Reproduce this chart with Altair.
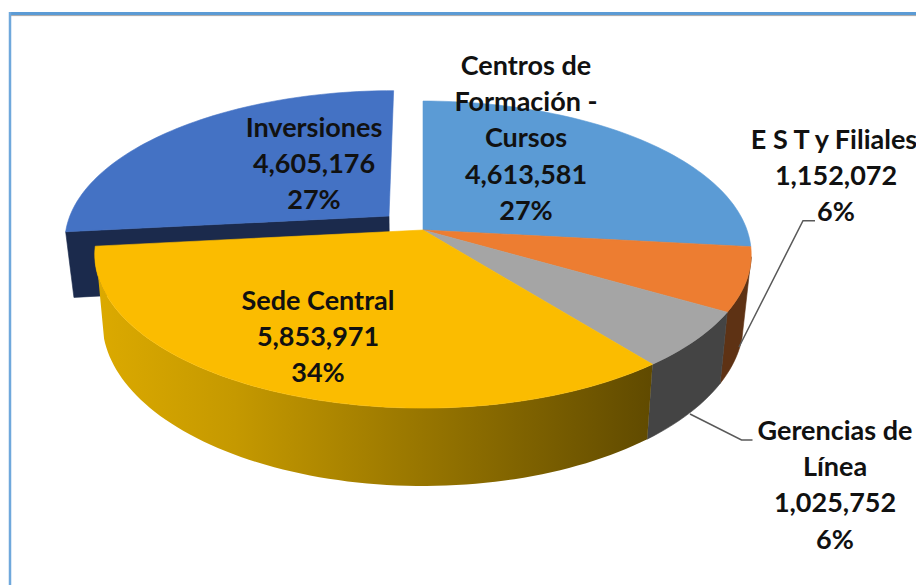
import math
import altair as alt
import pandas as pd

# ---- values
names = ["Centros de Formación - Cursos", "E S T y Filiales", "Gerencias de Línea", "Sede Central", "Inversiones"]
values = [4613581, 1152072, 1025752, 5853971, 4605176]
percents = ["27%", "6%", "6%", "34%", "27%"]
label_lines = [
    ["Centros de", "Formación -", "Cursos"],
    ["E S T y Filiales"],
    ["Gerencias de", "Línea"],
    ["Sede Central"],
    ["Inversiones"],
]

# ---- styling and layout
top_colors = ["#5b9bd5", "#ed7d31", "#a5a5a5", "#fbbc00", "#4472c4"]
est_wall = "#5e3214"
ger_wall = "#444444"
inv_wall = "#1b2a4c"
W, H = 908, 577
CX, CY, A, B, K = 423, 230, 324, 149.6, 0.16      # upper face projection
BY, BA, BB = 295.5, 316.5, 160                    # lower face projection
EXPLODE = (-0.1065, 0.0945)
label_x = [526, 834, 835, 318, 314]
label_y = [67, 141, 432, 302, 129]
LINE = 36.2
FONT = "Lato"
FSIZE = 27

total = sum(values)
cum = [0]
for v in values:
    cum.append(cum[-1] + v / total * 360)


def project(u, v, face="top"):
    d = 1 + K * v
    if face == "top":
        return CX + A * u / d, CY - B * v / d
    return CX + BA * u / d, BY - BB * v / d


def rim(t, face="top", off=(0, 0)):
    r = math.radians(t)
    return project(math.sin(r) + off[0], math.cos(r) + off[1], face)


def arc(t0, t1, face="top", off=(0, 0), step=1.5):
    n = max(2, int(abs(t1 - t0) / step))
    return [rim(t0 + (t1 - t0) * i / n, face, off) for i in range(n + 1)]


xs = alt.Scale(domain=[8, 8 + W], nice=False, zero=False)
ys = alt.Scale(domain=[8 + H, 8], nice=False, zero=False)


def poly(points, fill, stroke=None):
    pts = list(points) + [points[0]]
    df = pd.DataFrame({"x": [p[0] for p in pts], "y": [p[1] for p in pts], "i": range(len(pts))})
    return alt.Chart(df).mark_line(
        fill=fill, stroke=stroke or "transparent", strokeWidth=0.6 if stroke else 0, interpolate="linear"
    ).encode(
        x=alt.X("x:Q", scale=xs, axis=None),
        y=alt.Y("y:Q", scale=ys, axis=None),
        order="i:Q",
    )


def path(points, color, width):
    df = pd.DataFrame({"x": [p[0] for p in points], "y": [p[1] for p in points], "i": range(len(points))})
    return alt.Chart(df).mark_line(stroke=color, strokeWidth=width).encode(
        x=alt.X("x:Q", scale=xs, axis=None),
        y=alt.Y("y:Q", scale=ys, axis=None),
        order="i:Q",
    )


layers = []

# exploded slice
c0, c1 = cum[4], cum[5]
layers.append(poly([rim(c0, "top", EXPLODE), project(*EXPLODE, "top"),
                    project(*EXPLODE, "bottom"), rim(c0, "bottom", EXPLODE)], inv_wall, inv_wall))
layers.append(poly([project(*EXPLODE, "top")] + arc(c0, c1, "top", EXPLODE), top_colors[4], top_colors[4]))

# walls of the other slices
layers.append(poly(arc(100, cum[2]) + arc(cum[2], 105, "bottom"), est_wall, est_wall))
layers.append(poly(arc(cum[2], cum[3]) + arc(cum[3], cum[2], "bottom"), ger_wall, ger_wall))
sede_grad = alt.LinearGradient(
    gradient="linear",
    stops=[
        alt.GradientStop(color="#dcaa00", offset=0),
        alt.GradientStop(color="#c59900", offset=0.25),
        alt.GradientStop(color="#8f6f00", offset=0.65),
        alt.GradientStop(color="#604a00", offset=1),
    ],
    x1=0, x2=1, y1=0, y2=0,
)
layers.append(poly(arc(cum[3], cum[4]) + arc(255, cum[3], "bottom"), sede_grad))

# upper faces
for i in range(4):
    layers.append(poly([(CX, CY)] + arc(cum[i], cum[i + 1]), top_colors[i], top_colors[i]))

# leader lines
layers.append(path([(739, 347), (803, 220.7), (815, 220.7)], "#595959", 1.5))
layers.append(path([(690, 414), (741.5, 440), (752.5, 440)], "#595959", 1.5))

# frame
layers.append(path([(9, 15.6), (924, 15.6)], "#a6a6a6", 1))
layers.append(path([(9, 13.5), (924, 13.5)], "#5b9bd5", 3))
layers.append(path([(10, 12), (10, 585)], "#6fa8dc", 2.5))

# labels
rows = []
for i, lines in enumerate(label_lines):
    full = lines + [f"{values[i]:,}", percents[i]]
    for j, s in enumerate(full):
        x = label_x[i] + (2 if i == 1 and j > 0 else 0)
        rows.append({"x": x, "y": label_y[i] + j * LINE, "t": s})
layers.append(
    alt.Chart(pd.DataFrame(rows)).mark_text(
        font=FONT, fontSize=FSIZE, fontWeight="bold", color="#111111", align="center", baseline="middle"
    ).encode(
        x=alt.X("x:Q", scale=xs, axis=None),
        y=alt.Y("y:Q", scale=ys, axis=None),
        text="t:N",
    )
)

chart = (
    alt.layer(*layers)
    .properties(width=W, height=H, padding=0, background="white", autosize=alt.AutoSizeParams(type="none"))
    .configure_view(strokeWidth=0)
)
chart.save("out.html", embed_options={"renderer": "svg", "actions": False})
